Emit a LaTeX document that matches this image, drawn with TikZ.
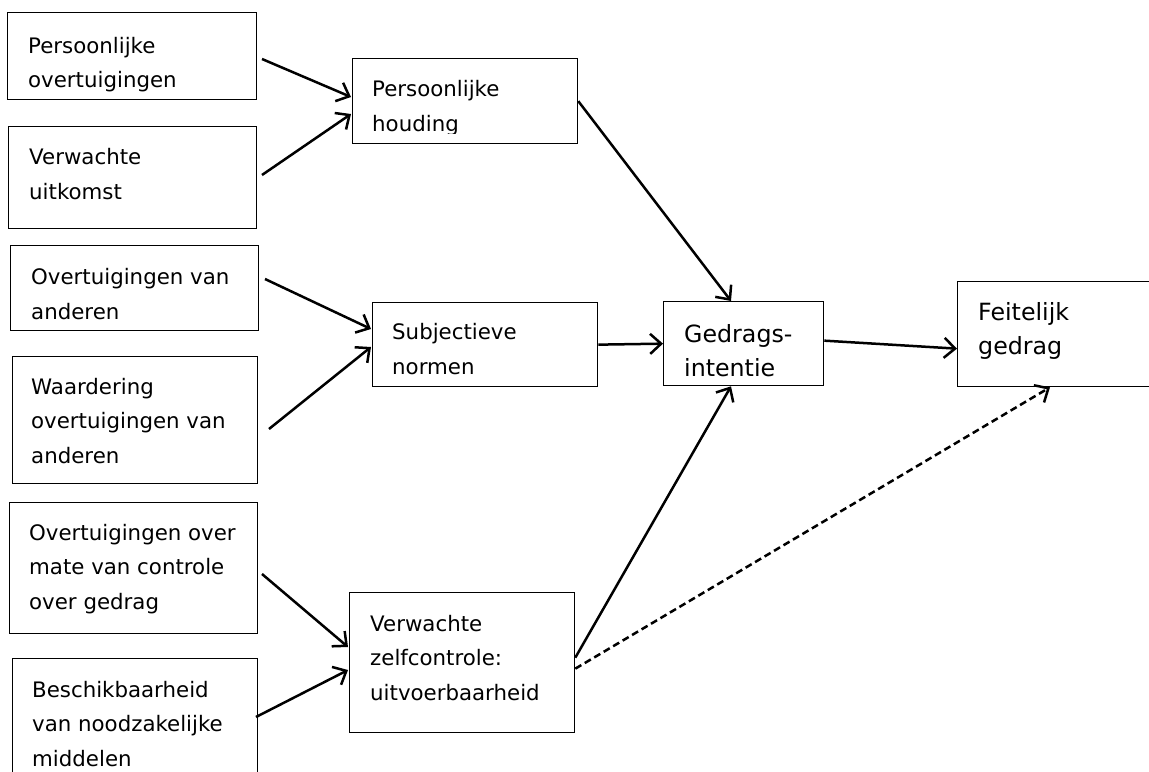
\documentclass[tikz,border=0pt]{standalone}
\usepackage{fontspec}
\setmainfont{DejaVu Sans}
\usetikzlibrary{arrows.meta}
\tikzset{
  box/.style={draw=black, line width=1.3bp, inner sep=0pt, anchor=north west, minimum width=#1},
  lbl/.style={anchor=base west, inner sep=0pt, align=left, font=\fontsize{21.4}{34.6}\selectfont},
  biglbl/.style={anchor=base west, inner sep=0pt, align=left, font=\fontsize{23.8}{34}\selectfont},
  conn/.style={line width=2.5bp, -{Straight Barb[length=11bp,width=20bp,line width=2.5bp]}},
  dconn/.style={conn, dash pattern=on 7bp off 4bp}
}
\begin{document}
\begin{tikzpicture}[x=1bp,y=-1bp]
\clip (0,0) rectangle (1149,772);
% boxes
\node[box=249bp, minimum height=87bp]  (A) at (7,12)    {};
\node[box=248bp, minimum height=102bp] (B) at (8,126)   {};
\node[box=225bp, minimum height=85bp]  (C) at (352,58)  {};
\node[box=248bp, minimum height=85bp]  (D) at (10,245)  {};
\node[box=245bp, minimum height=127bp] (E) at (12,356)  {};
\node[box=225bp, minimum height=84bp]  (F) at (372,302) {};
\node[box=160bp, minimum height=84bp]  (G) at (663,301) {};
\node[box=220bp, minimum height=105bp] (H) at (957,281) {};
\node[box=248bp, minimum height=131bp] (I) at (9,502)   {};
\node[box=245bp, minimum height=130bp] (J) at (12,658)  {};
\node[box=225bp, minimum height=140bp] (K) at (349,592) {};
% texts (anchored at the baseline of the last line)
\node[lbl] (tA) at (28,88)  {Persoonlijke\\overtuigingen};
\node[lbl] (tB) at (29,199) {Verwachte\\uitkomst};
\begin{scope}
\clip (352,58) rectangle (577,133);
\node[lbl] (tC) at (372,131) {Persoonlijke\\houding};
\end{scope}
\node[lbl] (tD) at (31,319) {Overtuigingen van\\anderen};
\node[lbl] (tE) at (31,463) {Waardering\\overtuigingen van\\anderen};
\node[lbl] (tF) at (392,374) {Subjectieve\\normen};
\node[biglbl] (tG) at (684,376) {Gedrags-\\intentie};
\node[biglbl] (tH) at (978,354) {Feitelijk\\gedrag};
\node[lbl] (tI) at (29,609) {Overtuigingen over\\mate van controle\\over gedrag};
\node[lbl] (tJ) at (32,766) {Beschikbaarheid\\van noodzakelijke\\middelen};
\node[lbl] (tK) at (370,700) {Verwachte\\zelfcontrole:\\uitvoerbaarheid};
% free connector ends
\coordinate (sA) at (262,59);
\coordinate (sB) at (262,175);
\coordinate (sD) at (265,279);
\coordinate (sE) at (269,429);
\coordinate (sI) at (262,574);
\coordinate (sJ) at (256,717);
% connectors
\draw[conn] (sA) -- ([xshift=-1bp,yshift=-39bp]C.north west);
\draw[conn] (sB) -- ([xshift=-1bp,yshift=-56bp]C.north west);
\draw[conn] (C.east) -- ([xshift=68bp]G.north west);
\draw[conn] (sD) -- ([xshift=-1bp,yshift=-27bp]F.north west);
\draw[conn] (sE) -- ([xshift=-1bp,yshift=-45bp]F.north west);
\draw[conn] (F.east) -- (G.west);
\draw[conn] ([yshift=3bp]G.east) -- ([yshift=-14.5bp]H.west);
\draw[conn] (sI) -- ([xshift=-1bp,yshift=-55bp]K.north west);
\draw[conn] (sJ) -- ([xshift=-1bp,yshift=-78bp]K.north west);
\draw[conn] ([yshift=5bp]K.east) -- ([xshift=68bp]G.south west);
\draw[dconn] ([yshift=-6bp]K.east) -- ([xshift=93bp]H.south west);
\end{tikzpicture}
\end{document}
